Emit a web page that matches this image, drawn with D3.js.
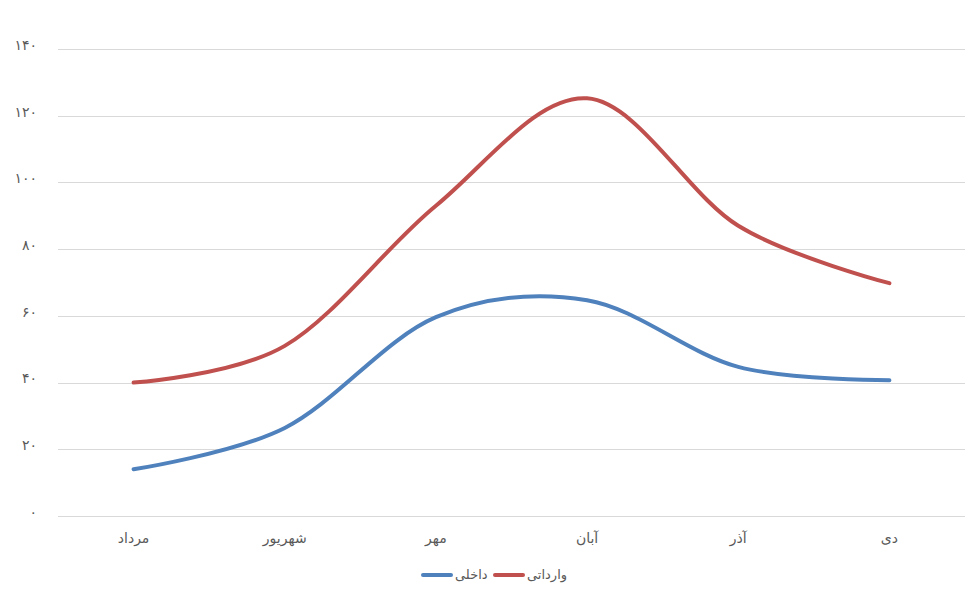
<!DOCTYPE html>
<html>
<head>
<meta charset="utf-8">
<script src="https://cdn.jsdelivr.net/npm/d3@7"></script>
<style>
  body { margin: 0; background: #fff; }
  text { font-family: "DejaVu Sans", "Noto Sans", sans-serif; fill: #595959; }
</style>
</head>
<body>
<script>
// data
var months = ["مرداد", "شهریور", "مهر", "آبان", "آذر", "دی"];
var domestic = [14, 26.4, 59.6, 64.7, 44.7, 40.7];   // داخلی
var imported = [40, 51, 93, 125.2, 87, 69.8];        // وارداتی
var yTicks = [0, 20, 40, 60, 80, 100, 120, 140];
var seriesNames = ["داخلی", "وارداتی"];
var seriesColors = ["#4F81BD", "#C0504D"];

var width = 977, height = 600;
var margin = {top: 49, right: 12, bottom: 84, left: 58};

var faDigits = "۰۱۲۳۴۵۶۷۸۹";
function toFa(n) {
    return String(n).replace(/[0-9]/g, function (c) { return faDigits[+c]; });
}

var svg = d3.select("body").append("svg")
    .attr("width", width)
    .attr("height", height);

var x = d3.scaleBand()
    .domain(months)
    .range([margin.left, width - margin.right]);

var y = d3.scaleLinear()
    .domain([0, 140])
    .range([height - margin.bottom, margin.top]);

// gridlines
svg.append("g")
    .selectAll("line")
    .data(yTicks)
    .enter()
    .append("line")
    .attr("x1", margin.left)
    .attr("x2", width - margin.right)
    .attr("y1", d => Math.round(y(d)) + 0.5)
    .attr("y2", d => Math.round(y(d)) + 0.5)
    .attr("stroke", "#d9d9d9")
    .attr("stroke-width", 1);

// y labels
svg.append("g")
    .selectAll("text")
    .data(yTicks)
    .enter()
    .append("text")
    .attr("x", 37)
    .attr("y", d => y(d) - 4)
    .attr("dy", "0.35em")
    .attr("text-anchor", "end")
    .attr("font-size", "14px")
    .text(d => toFa(d));

// x labels
svg.append("g")
    .selectAll("text")
    .data(months)
    .enter()
    .append("text")
    .attr("x", d => x(d) + x.bandwidth() / 2)
    .attr("y", 538)
    .attr("dy", "0.35em")
    .attr("text-anchor", "middle")
    .attr("font-size", "14px")
    .text(d => d);

var line = d3.line()
    .x((d, i) => x(months[i]) + x.bandwidth() / 2)
    .y(d => y(d))
    .curve(d3.curveCardinal.tension(0));

[domestic, imported].forEach(function (s, k) {
    svg.append("path")
        .datum(s)
        .attr("fill", "none")
        .attr("stroke", seriesColors[k])
        .attr("stroke-width", 4)
        .attr("stroke-linecap", "round")
        .attr("stroke-linejoin", "round")
        .attr("d", line);
});

// legend
var legendX = [423, 495];
var legend = svg.selectAll(".legend")
    .data(seriesNames)
    .enter()
    .append("g")
    .attr("class", "legend")
    .attr("transform", (d, i) => "translate(" + legendX[i] + ",575)");

legend.append("line")
    .attr("x1", 0)
    .attr("x2", 28)
    .attr("stroke", (d, i) => seriesColors[i])
    .attr("stroke-width", 4)
    .attr("stroke-linecap", "round");

legend.append("text")
    .attr("x", 32)
    .attr("dy", "0.3em")
    .attr("font-size", "13px")
    .text(d => d);
</script>
</body>
</html>
